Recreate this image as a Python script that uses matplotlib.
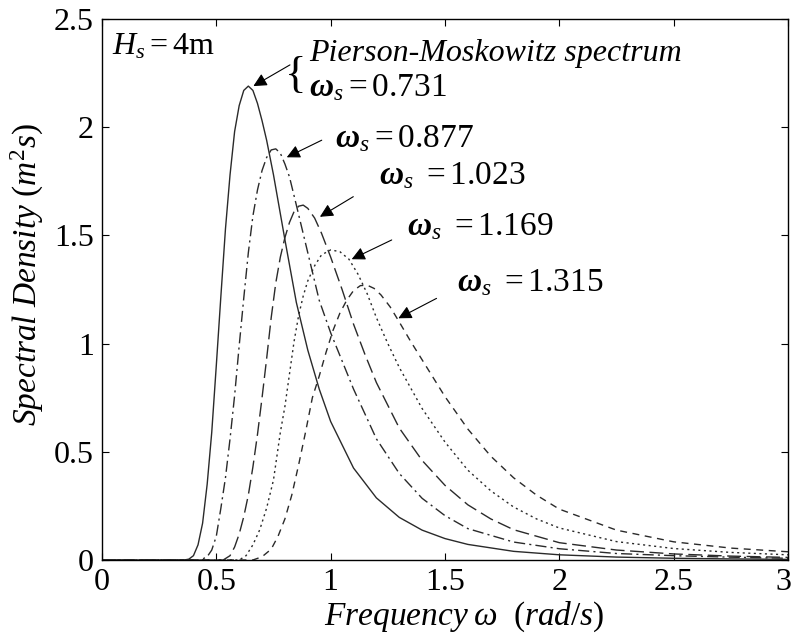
"""Pierson-Moskowitz spectra, Hs = 4 m, for several characteristic frequencies."""

import matplotlib

matplotlib.use("Agg")
import matplotlib.pyplot as plt
from matplotlib.transforms import ScaledTranslation

# values
w1 = [0.0, 0.36, 0.38, 0.40, 0.42, 0.44, 0.46, 0.48, 0.50, 0.52, 0.54, 0.56, 0.58, 0.60, 0.62,
      0.64, 0.66, 0.68, 0.70, 0.72, 0.75, 0.80, 0.85, 0.90, 0.95, 1.00, 1.10, 1.20, 1.30, 1.40,
      1.50, 1.60, 1.80, 2.00, 2.25, 2.50, 2.75, 3.00]
s1 = [0.0, 0.0, 0.004, 0.02, 0.07, 0.17, 0.35, 0.59, 0.90, 1.22, 1.53, 1.78, 1.98, 2.10, 2.17,
      2.19, 2.17, 2.11, 2.03, 1.94, 1.78, 1.48, 1.19, 0.97, 0.79, 0.64, 0.425, 0.287, 0.197, 0.138,
      0.099, 0.072, 0.040, 0.024, 0.0135, 0.008, 0.005, 0.003]

w2 = [0.0, 0.43, 0.46, 0.48, 0.50, 0.52, 0.54, 0.56, 0.58, 0.60, 0.62, 0.64, 0.66, 0.68, 0.70,
      0.72, 0.74, 0.76, 0.78, 0.80, 0.82, 0.85, 0.90, 0.95, 1.00, 1.05, 1.10, 1.20, 1.30, 1.40,
      1.50, 1.60, 1.80, 2.00, 2.25, 2.50, 2.75, 3.00]
s2 = [0.0, 0.0, 0.015, 0.046, 0.11, 0.24, 0.38, 0.56, 0.76, 0.99, 1.21, 1.42, 1.59, 1.71, 1.80,
      1.86, 1.895, 1.90, 1.88, 1.83, 1.77, 1.64, 1.42, 1.20, 1.05, 0.92, 0.79, 0.56, 0.40, 0.285,
      0.205, 0.145, 0.083, 0.052, 0.03, 0.02, 0.013, 0.008]

w3 = [0.0, 0.53, 0.56, 0.58, 0.60, 0.62, 0.64, 0.66, 0.68, 0.70, 0.72, 0.74, 0.76, 0.78, 0.80,
      0.82, 0.84, 0.86, 0.88, 0.90, 0.93, 0.96, 1.00, 1.05, 1.10, 1.15, 1.20, 1.30, 1.40, 1.50,
      1.60, 1.70, 1.80, 2.00, 2.25, 2.50, 2.75, 3.00]
s3 = [0.0, 0.0, 0.02, 0.06, 0.12, 0.20, 0.30, 0.43, 0.58, 0.75, 0.93, 1.12, 1.28, 1.40, 1.49,
      1.56, 1.61, 1.635, 1.64, 1.625, 1.58, 1.51, 1.40, 1.25, 1.09, 0.95, 0.82, 0.61, 0.46, 0.345,
      0.255, 0.19, 0.14, 0.08, 0.046, 0.028, 0.018, 0.012]

w4 = [0.0, 0.60, 0.63, 0.66, 0.69, 0.72, 0.75, 0.78, 0.80, 0.82, 0.84, 0.86, 0.88, 0.90, 0.93,
      0.96, 1.00, 1.04, 1.08, 1.12, 1.16, 1.20, 1.25, 1.30, 1.40, 1.50, 1.60, 1.70, 1.80, 1.90,
      2.00, 2.25, 2.50, 2.75, 3.00]
s4 = [0.0, 0.0, 0.02, 0.07, 0.14, 0.24, 0.37, 0.59, 0.71, 0.86, 1.01, 1.13, 1.22, 1.29, 1.36,
      1.41, 1.433, 1.425, 1.39, 1.32, 1.23, 1.12, 1.00, 0.89, 0.70, 0.545, 0.415, 0.32, 0.245, 0.19,
      0.148, 0.085, 0.053, 0.035, 0.024]

w5 = [0.0, 0.66, 0.70, 0.74, 0.77, 0.80, 0.83, 0.86, 0.89, 0.92, 0.95, 0.98, 1.01, 1.04, 1.07,
      1.10, 1.13, 1.16, 1.19, 1.22, 1.26, 1.30, 1.35, 1.40, 1.50, 1.60, 1.70, 1.80, 1.90, 2.00,
      2.25, 2.50, 2.75, 3.00]
s5 = [0.0, 0.0, 0.015, 0.05, 0.11, 0.19, 0.30, 0.44, 0.59, 0.75, 0.85, 0.96, 1.06, 1.14, 1.20,
      1.245, 1.268, 1.27, 1.255, 1.225, 1.17, 1.10, 1.01, 0.925, 0.755, 0.605, 0.48, 0.38, 0.30, 0.235,
      0.138, 0.084, 0.055, 0.038]

omega_s = ["0.731", "0.877", "1.023", "1.169", "1.315"]

plt.rcParams.update({
    "font.family": "Liberation Serif",
    "mathtext.fontset": "custom",
    "mathtext.rm": "Liberation Serif",
    "mathtext.it": "Liberation Serif:italic",
    "mathtext.bf": "Liberation Serif:bold",
    "mathtext.bfit": "Liberation Serif:italic:bold",
})

fig = plt.figure(figsize=(7.93, 6.36), dpi=100)
ax = fig.add_axes([0.1286, 0.1195, 0.8651, 0.8506])

ink = "#2a2a2a"
ax.plot(w1, s1, color=ink, lw=1.0, linestyle="-")
ax.plot(w2, s2, color=ink, lw=1.0, dashes=(8, 3, 1.5, 3))
ax.plot(w3, s3, color=ink, lw=1.0, dashes=(10, 4))
ax.plot(w4, s4, color=ink, lw=1.0, dashes=(1.5, 2.5))
ax.plot(w5, s5, color=ink, lw=1.0, dashes=(5, 4))

ax.set_xlim(0, 3)
ax.set_ylim(0, 2.5)
ax.set_xticks([0, 0.5, 1, 1.5, 2, 2.5, 3])
ax.set_xticklabels(["0", "0.5", "1", "1.5", "2", "2.5", "3"])
ax.set_yticks([0, 0.5, 1, 1.5, 2, 2.5])
ax.set_yticklabels(["0", "0.5", "1", "1.5", "2", "2.5"])
ax.tick_params(direction="in", top=True, right=True, length=5, width=0.8,
               labelsize=23, pad=6)
for sp in ax.spines.values():
    sp.set_linewidth(1.0)

# keep the last x label inside the canvas
last = ax.get_xticklabels()[-1]
last.set_transform(last.get_transform() + ScaledTranslation(-0.05, 0, fig.dpi_scale_trans))

ax.set_xlabel(r"$\mathit{Frequency}\;\mathit{\omega}\ \ (\mathit{rad/s})$", fontsize=24)
ax.set_ylabel(r"$\mathit{Spectral\ Density}\ (\mathit{m}^{2}\mathit{s})$", fontsize=24)
ax.xaxis.set_label_coords(0.528, -0.074)
ax.yaxis.set_label_coords(-0.082, 0.527)

ax.text(0.044, 2.371, r"$\mathit{H}_{\mathit{s}}= \mathrm{4m}$", fontsize=23, va="center", ha="left")
ax.text(0.80, 2.235, "{", fontsize=32, va="center", ha="left")
ax.text(0.905, 2.34, "Pierson-Moskowitz spectrum", fontsize=23, style="italic",
        va="center", ha="left")

# label positions and arrow ends for each curve
label_x = [0.905, 1.019, 1.212, 1.335, 1.552]
label_y = [2.18, 1.945, 1.775, 1.54, 1.28]
gap = [r"", r"", r"\ ", r"\ ", r"\ "]
tail_x = [0.822, 0.961, 1.099, 1.267, 1.463]
tail_y = [2.288, 1.940, 1.679, 1.479, 1.209]
head_x = [0.662, 0.808, 0.953, 1.092, 1.296]
head_y = [2.190, 1.861, 1.586, 1.390, 1.117]

for i, val in enumerate(omega_s):
    ax.text(label_x[i], label_y[i], r"$\mathbfit{\omega}_{\mathit{s}}" + gap[i] + "= " + val + "$",
            fontsize=24, va="center", ha="left")
    ax.annotate("", xy=(head_x[i], head_y[i]), xytext=(tail_x[i], tail_y[i]),
                arrowprops=dict(arrowstyle="-|>", color="k", lw=0.8, mutation_scale=20,
                                shrinkA=0, shrinkB=0))

fig.savefig("out.png", dpi=100)
